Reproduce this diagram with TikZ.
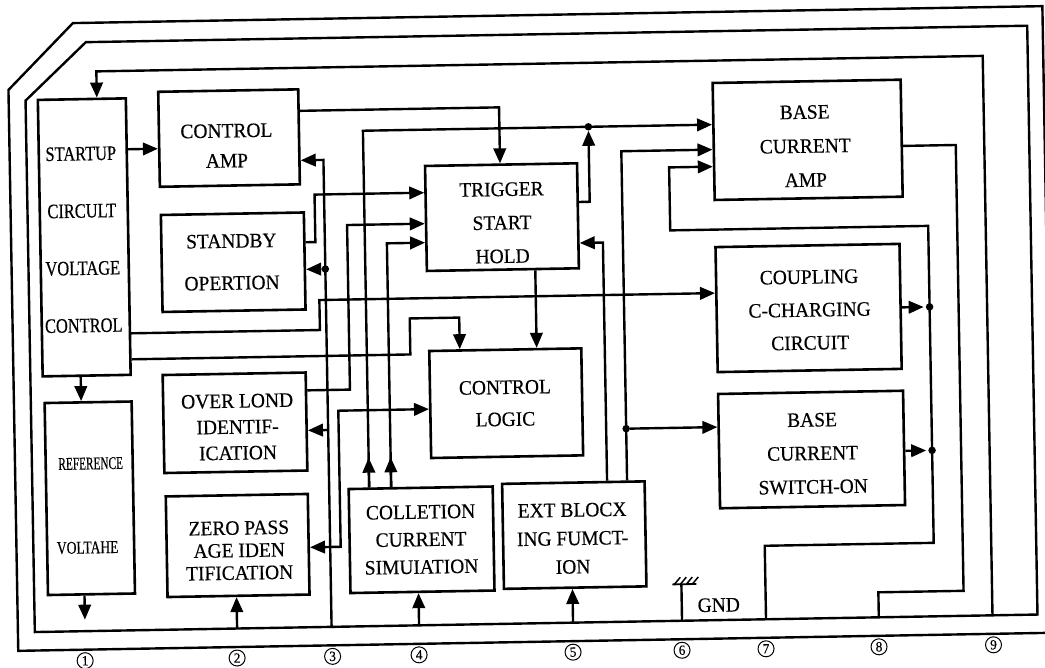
\documentclass[tikz,border=0pt]{standalone}
\usepackage{fontspec}
\usepackage{graphicx}
\setmainfont{Liberation Serif}[FakeStretch=0.95,FakeBold=0.35]
\usetikzlibrary{arrows.meta}
\newcommand{\lsp}[1]{\fontsize{20.5}{#1}\selectfont}
\begin{document}
\begin{tikzpicture}[x=1pt,y=-1pt,
  blk/.style={draw,line width=2.6pt,rectangle,inner sep=0pt},
  txt/.style={align=center,inner sep=0pt},
  ln/.style={line width=2.4pt},
  tip/.tip={Triangle[length=15pt,width=12.5pt]},
  arr/.style={ln,-tip},
  dot/.style={circle,fill,inner sep=0pt,minimum size=7.5pt},
  pin/.style={circle,draw,line width=1pt,minimum size=16pt,inner sep=0pt,font=\fontsize{14}{14}\selectfont},
  frame/.style={line width=2.4pt,line join=miter}]
\useasboundingbox (0,0) rectangle (1045,668);
\clip (0,0) rectangle (1045,668);
\fill[white] (0,0) rectangle (1045,668);
\begin{scope}[transform canvas={rotate around={1:(522,334)}}]
% ---- frames
\draw[frame] (78.4,15.3) -- (1048,15.3) -- (1048,642) -- (12.8,642) -- (12.8,81) -- cycle;
\draw[frame] (91,34.6) -- (1032.5,34.6) -- (1032.5,623.5) -- (29.7,623.5) -- (29.7,92) -- cycle;
% ---- blocks
\node[blk,minimum width=88pt,minimum height=276.5pt] (sc) at (86,229.75) {};
\node[blk,minimum width=87pt,minimum height=192pt] (rv) at (87,490.7) {};
\node[blk,minimum width=140pt,minimum height=95pt] (ca) at (232.5,133) {};
\node[blk,minimum width=143pt,minimum height=97pt] (so) at (234.5,257.2) {};
\node[blk,minimum width=143pt,minimum height=98pt] (ol) at (233.5,417.75) {};
\node[blk,minimum width=142pt,minimum height=100.6pt] (zp) at (234,540.5) {};
\node[blk,minimum width=152pt,minimum height=105pt] (tsh) at (504,216.8) {};
\node[blk,minimum width=152pt,minimum height=107pt] (cl) at (505,402.9) {};
\node[blk,minimum width=144pt,minimum height=104pt] (cc) at (418,538) {};
\node[blk,minimum width=142.5pt,minimum height=105pt] (eb) at (570.75,536) {};
\node[blk,minimum width=188pt,minimum height=117pt] (bca) at (811,144.85) {};
\node[blk,minimum width=184pt,minimum height=125pt] (co) at (809,313) {};
\node[blk,minimum width=185pt,minimum height=114.3pt] (bcs) at (809.5,454.55) {};
% ---- texts
\node[txt,font=\lsp{57.3}\addfontfeature{FakeStretch=0.8}] (sc-t) at (84,232) {STARTUP\\CIRCULT\\VOLTAGE\\CONTROL};
\node[txt] (rv-t1) at (88.5,456) {\fontsize{18}{18}\selectfont\scalebox{0.66}[1]{REFERENCE}};
\node[txt] (rv-t2) at (84,540) {\fontsize{18}{18}\selectfont\scalebox{0.79}[1]{VOLTAHE}};
\node[txt,font=\lsp{30}] (ca-t) at (230,140.6) {CONTROL\\AMP};
\node[txt,font=\lsp{42}] (so-t) at (233,257) {STANDBY\\OPERTION};
\node[txt,font=\lsp{26}] (ol-t) at (236,422) {OVER LOND\\IDENTIF-\\ICATION};
\node[txt,font=\lsp{22.5}] (zp-t) at (235.5,545.5) {ZERO PASS\\AGE IDEN\\TIFICATION};
\node[txt,font=\lsp{33.5}] (tsh-t) at (504,222.5) {TRIGGER\\START\\HOLD};
\node[txt,font=\lsp{32}] (cl-t) at (504,403) {CONTROL\\LOGIC};
\node[txt,font=\lsp{27.5}] (cc-t) at (417.5,537.7) {COLLETION\\CURRENT\\SIMUIATION};
\node[txt,font=\lsp{28.4}] (eb-t) at (569,539.3) {EXT BLOCX\\ING FUMCT-\\ION};
\node[txt,font=\lsp{34}] (bca-t) at (808.5,151) {BASE\\CURRENT\\AMP};
\node[txt,font=\lsp{33}] (co-t) at (810,315) {COUPLING\\C-CHARGING\\CIRCUIT};
\node[txt,font=\lsp{33.5}] (bcs-t) at (810.5,458.5) {BASE\\CURRENT\\SWITCH-ON};
% ---- junction dots
\node[dot] (j1) at (592,128) {};
\node[dot] (j2) at (624.5,430.5) {};
\node[dot] (j3) at (326.5,265.6) {};
\node[dot] (j4) at (930,314) {};
\node[dot] (j5) at (930,457.5) {};
% ---- pin ends on the bus
\coordinate (p1) at (80,612);
\coordinate (p2) at (232,623.5);
\coordinate (p3) at (326.5,623.5);
\coordinate (p4) at (414,623.5);
\coordinate (p5) at (568,623.5);
\coordinate (p6) at (677,623.5);
\coordinate (p7) at (761,623.5);
\coordinate (p8) at (873.8,623.5);
\coordinate (p9) at (987.5,623.5);
% ---- connectors
\draw[arr] (80,0 |- sc.south) -- (80,0 |- rv.north);
\draw[arr] (80,0 |- rv.south) -- (p1);
\draw[arr] (sc.east |- 0,142.4) -- (ca.west |- 0,142.4);
\draw[arr] (p9) |- (101,64) -- (101,0 |- sc.north);
\draw[arr] (ca.east |- 0,107) -| (503,0 |- tsh.north);
\draw[arr] (sc.east |- 0,326.5) -| (320,296.5) -- (co.west |- 0,296.5);
\draw[arr] (sc.east |- 0,352.5) -| (410,316.5) -| (459.5,0 |- cl.north);
\draw[arr] (so.east |- 0,238.5) -| (317,191) -- (tsh.west |- 0,191);
\draw[arr] (ol.east |- 0,386.6) -| (349,222) -- (tsh.west |- 0,222);
\draw[arr] (388.5,0 |- cc.north) |- (tsh.west |- 0,241);
\draw[arr] (388.5,0 |- cc.north) -- (388.5,455);
\draw[arr] (366.5,0 |- cc.north) |- (bca.west |- 0,128);
\draw[arr] (366.5,0 |- cc.north) -- (366.5,455);
\draw[arr] (tsh.east |- 0,203) -| (592,132);
\draw[arr] (536.4,0 |- tsh.south) -- (536.4,0 |- cl.north);
\draw[arr] (604.5,0 |- eb.north) |- (tsh.east |- 0,244);
\draw[arr] (624.5,0 |- eb.north) |- (bca.west |- 0,153);
\draw[arr] (j2) -- (bcs.west |- j2);
\draw[arr] (p3) |- (ca.east |- 0,156.5);
\draw[arr] (j3) -- (so.east |- j3);
\draw[arr] (326.5,426.6) -- (ol.east |- 0,426.6);
\draw[ln,tip-tip] (zp.east |- 0,543.6) -| (337,407.5) -- (cl.west |- 0,407.5);
\draw[arr] (p2) -- (232,0 |- zp.south);
\draw[arr] (p4) -- (414,0 |- cc.south);
\draw[arr] (p5) -- (568,0 |- eb.south);
\draw[arr] (p7) |- (930,550) -- (930,233) -| (672,170) -- (bca.west |- 0,170);
\draw[arr,shorten >=2pt] (co.east |- j4) -- (j4);
\draw[arr,shorten >=2pt] (bcs.east |- j5) -- (j5);
\draw[ln] (bca.east |- 0,152.6) -| (959,598.5) -| (p8);
% ---- ground symbol
\draw[ln] (p6) -- (677,587);
\draw[line width=1.8pt] (668,587) -- (692,587);
\foreach \i in {0,1,2,3} \draw[line width=1.5pt] (670+6*\i,587) -- (676+6*\i,580);
\node[txt,font=\lsp{20}] (gnd) at (714,608.4) {GND};
% ---- pin numbers
\foreach \n/\x in {1/79.5,2/231.5,3/327,4/413.5,5/567.5,6/676.5,7/760.5,8/873.5,9/988}
  \node[pin] (pin\n) at (\x,653) {\n};
\end{scope}
\end{tikzpicture}
\end{document}
